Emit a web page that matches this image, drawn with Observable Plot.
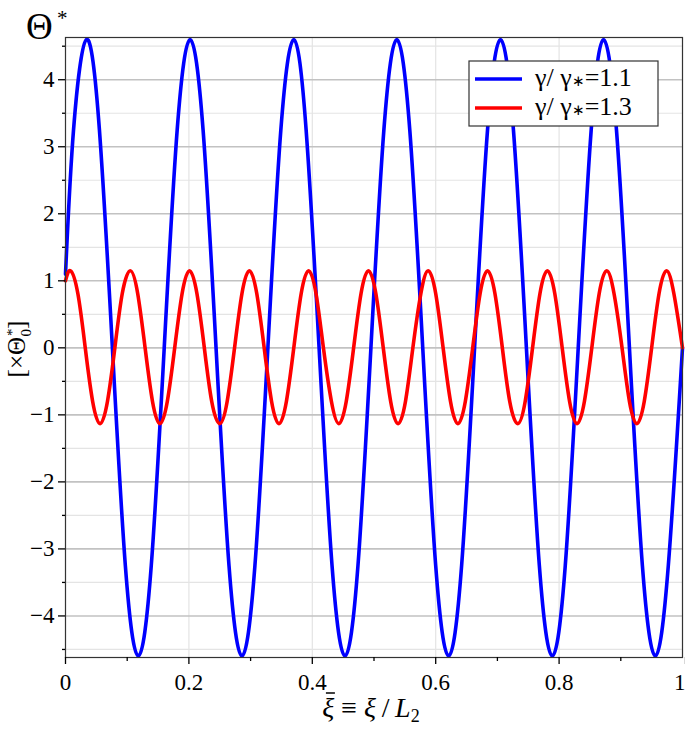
<!DOCTYPE html>
<html>
<head>
<meta charset="utf-8">
<script src="https://cdn.jsdelivr.net/npm/d3@7"></script>
<script src="https://cdn.jsdelivr.net/npm/@observablehq/plot@0.6"></script>
<style>
  html, body { margin: 0; padding: 0; background: #fff; }
  #chart { width: 685px; height: 730px; }
</style>
</head>
<body>
<div id="chart"></div>
<script>
// Blue series: gamma/gamma* = 1.1
const blueX = [0, 0.013, 0.034, 0.055, 0.076, 0.097, 0.118, 0.139, 0.160, 0.181, 0.202, 0.223, 0.244, 0.265, 0.286, 0.307, 0.328, 0.349, 0.370, 0.390, 0.411, 0.432, 0.453, 0.474, 0.495, 0.516, 0.537, 0.558, 0.579, 0.600, 0.621, 0.642, 0.663, 0.684, 0.705, 0.726, 0.747, 0.768, 0.789, 0.810, 0.831, 0.852, 0.872, 0.893, 0.914, 0.935, 0.956, 0.977, 1.0];
const blueY = [1.1, 3.25, 4.6, 3.25, 0, -3.25, -4.6, -3.25, 0, 3.25, 4.6, 3.25, 0, -3.25, -4.6, -3.25, 0, 3.25, 4.6, 3.25, 0, -3.25, -4.6, -3.25, 0, 3.25, 4.6, 3.25, 0, -3.25, -4.6, -3.25, 0, 3.25, 4.6, 3.25, 0, -3.25, -4.6, -3.25, 0, 3.25, 4.6, 3.25, 0, -3.25, -4.6, -3.25, 0];

// Red series: gamma/gamma* = 1.3
const redX = [0, 0.008, 0.020, 0.032, 0.044, 0.056, 0.068, 0.080, 0.092, 0.105, 0.117, 0.129, 0.141, 0.153, 0.165, 0.177, 0.189, 0.201, 0.213, 0.225, 0.237, 0.250, 0.262, 0.274, 0.286, 0.298, 0.310, 0.322, 0.334, 0.346, 0.358, 0.370, 0.382, 0.394, 0.406, 0.418, 0.431, 0.443, 0.455, 0.467, 0.479, 0.491, 0.503, 0.515, 0.527, 0.539, 0.551, 0.563, 0.576, 0.588, 0.600, 0.612, 0.624, 0.636, 0.648, 0.660, 0.672, 0.684, 0.696, 0.708, 0.720, 0.733, 0.745, 0.757, 0.769, 0.781, 0.793, 0.805, 0.817, 0.829, 0.841, 0.853, 0.865, 0.877, 0.889, 0.902, 0.914, 0.926, 0.938, 0.950, 0.962, 0.974, 0.986, 1.0];
const redY = [1.0, 1.15, 0.81, 0, -0.80, -1.13, -0.80, 0, 0.81, 1.15, 0.81, 0, -0.80, -1.13, -0.80, 0, 0.81, 1.15, 0.81, 0, -0.80, -1.13, -0.80, 0, 0.81, 1.15, 0.81, 0, -0.80, -1.13, -0.80, 0, 0.81, 1.15, 0.81, 0, -0.80, -1.13, -0.80, 0, 0.81, 1.15, 0.81, 0, -0.80, -1.13, -0.80, 0, 0.81, 1.15, 0.81, 0, -0.80, -1.13, -0.80, 0, 0.81, 1.15, 0.81, 0, -0.80, -1.13, -0.80, 0, 0.81, 1.15, 0.81, 0, -0.80, -1.13, -0.80, 0, 0.81, 1.15, 0.81, 0, -0.80, -1.13, -0.80, 0, 0.81, 1.15, 0.81, 0];

// Ticks
const xMajorTicks = [0, 0.2, 0.4, 0.6, 0.8];
const xLastTick = [1];
const xGridLines = [0, 0.2, 0.4, 0.6, 0.8, 1];
const xMinorTicks = [0.1, 0.3, 0.5, 0.7, 0.9];
const yMajorTicks = [-4, -3, -2, -1, 0, 1, 2, 3, 4];
const yMinorTicks = [-4.5, -3.5, -2.5, -1.5, -0.5, 0.5, 1.5, 2.5, 3.5, 4.5];

const seriesNames = ["1.1", "1.3"];
const seriesColors = ["#0000ff", "#ff0000"];

const blue = blueX.map((x, i) => ({x, y: blueY[i]}));
const red = redX.map((x, i) => ({x, y: redY[i]}));

const fmtX = d => String(d);
const fmtY = d => d < 0 ? "\u2212" + Math.abs(d) : String(d);

const serif = "'Liberation Serif', 'Times New Roman', Times, serif";

const plot = Plot.plot({
  width: 685,
  height: 730,
  marginLeft: 65,
  marginRight: 3,
  marginTop: 37,
  marginBottom: 73,
  x: {domain: [0, 1]},
  y: {domain: [-4.62, 4.63]},
  style: {fontFamily: serif, fontSize: "24px", background: "#fff", color: "#000"},
  marks: [
    Plot.ruleY(yMinorTicks, {stroke: "#e4e4e4", strokeWidth: 1.2}),
    Plot.ruleX(xGridLines, {stroke: "#e4e4e4", strokeWidth: 1.2}),
    Plot.ruleY(yMajorTicks, {stroke: "#c2c2c2", strokeWidth: 1.6}),
    Plot.line(blue, {x: "x", y: "y", curve: "natural", stroke: seriesColors[0], strokeWidth: 3.6}),
    Plot.line(red, {x: "x", y: "y", curve: "natural", stroke: seriesColors[1], strokeWidth: 3.6}),
    Plot.frame({stroke: "#333", strokeWidth: 1.2}),
    Plot.axisY(yMajorTicks, {tickSize: 7, tickPadding: 4, tickFormat: fmtY, fontSize: 24, label: null, strokeWidth: 1.3}),
    Plot.axisY(yMinorTicks, {tickSize: 3, tickFormat: () => "", label: null, strokeWidth: 1.3}),
    Plot.axisX(xMajorTicks, {tickSize: 7, tickPadding: 9, tickFormat: fmtX, fontSize: 24, label: null, strokeWidth: 1.3}),
    Plot.axisX(xLastTick, {tickSize: 7, tickPadding: 9, tickFormat: fmtX, fontSize: 24, label: null, strokeWidth: 1.3, textAnchor: "end", dx: 3}),
    Plot.axisX(xMinorTicks, {tickSize: 4, tickFormat: () => "", label: null, strokeWidth: 1.3})
  ]
});

document.getElementById("chart").appendChild(plot);

const svg = d3.select(plot);
// force tick label font
svg.selectAll("g[aria-label$='tick label'], g[aria-label$='tick label'] text")
  .style("font-family", serif).style("font-size", "23px");

// Title Θ*
svg.append("text").attr("x", 26).attr("y", 39)
  .attr("text-anchor", "start")
  .style("font-family", serif).style("font-size", "37px").attr("fill", "#000").text("Θ");
svg.append("text").attr("x", 57).attr("y", 25)
  .attr("text-anchor", "start")
  .style("font-family", serif).style("font-size", "21px").attr("fill", "#000").text("*");

// Y label [×Θ0*]
const yl = svg.append("text")
  .attr("transform", "translate(25,349) rotate(-90)")
  .attr("text-anchor", "middle")
  .style("font-family", serif).style("font-size", "25px").attr("fill", "#000");
yl.append("tspan").text("[×Θ");
yl.append("tspan").style("font-size", "15px").attr("dx", 1).attr("dy", -8).text("*");
yl.append("tspan").style("font-size", "15px").attr("dx", -8).attr("dy", 14).text("0");
yl.append("tspan").attr("dy", -6).text("]");

// X label ξ̄ ≡ ξ/L2 (bar over the first ξ drawn as a short stroke)
const xl = svg.append("text").attr("x", 371).attr("y", 717)
  .attr("text-anchor", "middle")
  .style("font-family", serif).style("font-size", "28px").attr("fill", "#000");
xl.append("tspan").style("font-style", "italic").text("ξ");
xl.append("tspan").text(" ≡ ");
xl.append("tspan").style("font-style", "italic").text("ξ");
xl.append("tspan").text("\u2009/\u2009");
xl.append("tspan").style("font-style", "italic").text("L");
xl.append("tspan").style("font-size", "18px").attr("dy", 5).text("2");
{
  let x0 = 318, w = 13;
  try {
    const ext = xl.node().getExtentOfChar(0);
    if (ext && isFinite(ext.x) && ext.width > 0) { x0 = ext.x; w = ext.width; }
  } catch (e) {
    try { x0 = xl.node().getBBox().x; } catch (e2) {}
  }
  svg.append("line")
    .attr("x1", x0 + w * 0.3).attr("x2", x0 + w * 1.05)
    .attr("y1", 693).attr("y2", 693)
    .attr("stroke", "#000").attr("stroke-width", 1.5);
}

// Legend
const lg = svg.append("g");
lg.append("rect").attr("x", 469).attr("y", 61).attr("width", 189).attr("height", 65)
  .attr("fill", "#fff").attr("stroke", "#333").attr("stroke-width", 1.2);
seriesNames.forEach((name, i) => {
  const yy = 79 + i * 29;
  lg.append("line").attr("x1", 475).attr("x2", 522).attr("y1", yy).attr("y2", yy)
    .attr("stroke", seriesColors[i]).attr("stroke-width", 3.6);
  const t = lg.append("text").attr("x", 535).attr("y", yy + 7)
    .attr("text-anchor", "start")
    .style("font-family", serif).style("font-size", "26px").attr("fill", "#000");
  t.append("tspan").text("γ/ γ");
  t.append("tspan").style("font-size", "15px").text("∗");
  t.append("tspan").text("=" + name);
});
</script>
</body>
</html>
